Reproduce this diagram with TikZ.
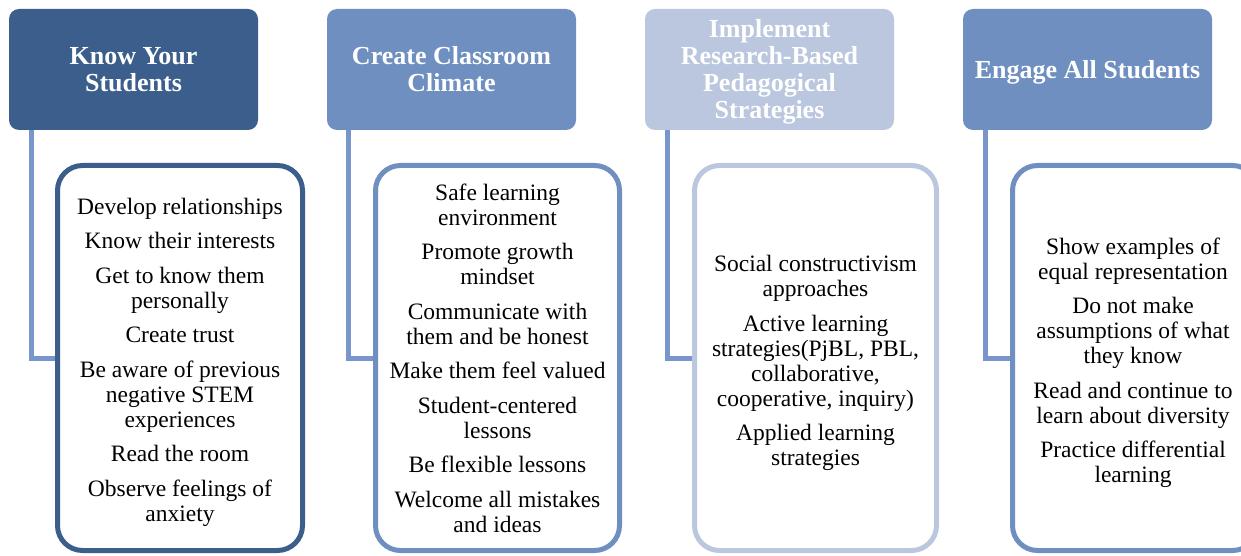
\documentclass[tikz,border=0pt]{standalone}
\usepackage{fontspec}
\setmainfont{Liberation Serif}
\usetikzlibrary{backgrounds}
\definecolor{hdark}{HTML}{3B5E8C}
\definecolor{hmid}{HTML}{6E8FC0}
\definecolor{hlight}{HTML}{BAC7DF}
\definecolor{connc}{HTML}{7896CB}
\tikzset{
  header/.style={rounded corners=10pt, minimum width=249pt, minimum height=121pt, inner sep=0pt},
  headtext/.style={text=white, align=center, inner sep=0pt, font=\fontsize{26}{27}\selectfont\bfseries},
  bodybox/.style={draw, line width=5pt, rounded corners=25pt, fill=white, minimum width=245pt,
    minimum height=385pt, inner sep=0pt},
  bodytext/.style={align=center, inner sep=0pt, font=\fontsize{23.5}{25}\selectfont},
  conn/.style={draw=connc, line width=5pt}
}
\newcommand{\gap}{\\[9.5pt]}
\begin{document}
\begin{tikzpicture}[x=1pt,y=-1pt]
\useasboundingbox (0,0) rectangle (1241,556);
% headers
\node[header, fill=hdark] (h1) at (133.5,69.5) {};
\node[header, fill=hmid] (h2) at (451.5,69.5) {};
\node[header, fill=hlight] (h3) at (769.5,69.5) {};
\node[header, fill=hmid] (h4) at (1087.5,69.5) {};
\node[headtext] (ht1) at (h1.center) {Know Your\\Students};
\node[headtext] (ht2) at (h2.center) {Create Classroom\\Climate};
\node[headtext] (ht3) at ([yshift=-2.5pt]h3.center) {Implement\\Research-Based\\Pedagogical\\Strategies};
\node[headtext] (ht4) at ([yshift=-3pt]h4.center) {Engage All Students};
% body boxes
\node[bodybox, draw=hdark] (b1) at (180,358) {};
\node[bodybox, draw=hmid, minimum width=244pt] (b2) at (497.5,358) {};
\node[bodybox, draw=hlight, minimum width=242pt] (b3) at (815.5,358) {};
\node[bodybox, draw=hmid] (b4) at (1135,358) {};
\node[bodytext] (t1) at ([yshift=-4pt]b1.center) {Develop relationships\gap Know their interests\gap Get to know them\\personally\gap Create trust\gap Be aware of previous\\negative STEM\\experiences\gap Read the room\gap Observe feelings of\\anxiety};
\node[bodytext] (t2) at ([yshift=0pt]b2.center) {Safe learning\\environment\gap Promote growth\\mindset\gap Communicate with\\them and be honest\gap Make them feel valued\gap Student-centered\\lessons\gap Be flexible lessons\gap Welcome all mistakes\\and ideas};
\node[bodytext] (t3) at ([yshift=-5pt]b3.center) {Social constructivism\\approaches\gap Active learning\\strategies(PjBL, PBL,\\collaborative,\\cooperative, inquiry)\gap Applied learning\\strategies};
\node[bodytext] (t4) at ([xshift=-2pt,yshift=-5pt]b4.center) {Show examples of\\equal representation\gap Do not make\\assumptions of what\\they know\gap Read and continue to\\learn about diversity\gap Practice differential\\learning};
% connectors
\begin{pgfonlayer}{background}
\draw[conn] ([xshift=23pt]h1.south west) |- (b1.west);
\draw[conn] ([xshift=22pt]h2.south west) |- (b2.west);
\draw[conn] ([xshift=23pt]h3.south west) |- (b3.west);
\draw[conn] ([xshift=23pt]h4.south west) |- (b4.west);
\end{pgfonlayer}
\end{tikzpicture}
\end{document}
